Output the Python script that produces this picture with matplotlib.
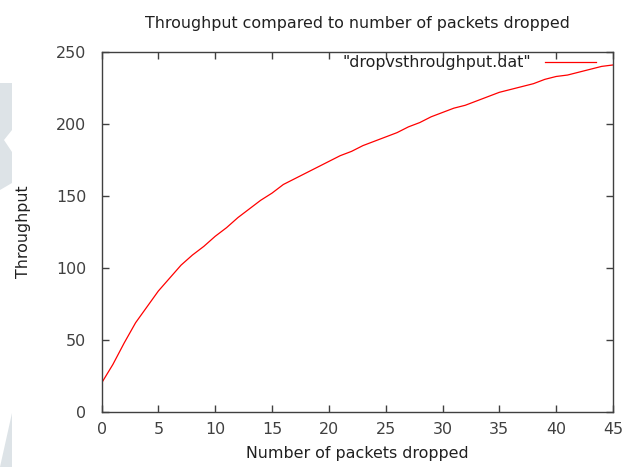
import matplotlib
matplotlib.use("Agg")
import matplotlib.pyplot as plt
from matplotlib.patches import Polygon

# packets dropped vs throughput
dropped = list(range(0, 46))
throughput = [20, 33, 48, 62, 73, 84, 93, 102, 109, 115,
              122, 128, 135, 141, 147, 152, 158, 162, 166, 170,
              174, 178, 181, 185, 188, 191, 194, 198, 201, 205,
              208, 211, 213, 216, 219, 222, 224, 226, 228, 231,
              233, 234, 236, 238, 240, 241]

xticks = [0, 5, 10, 15, 20, 25, 30, 35, 40, 45]
yticks = [0, 50, 100, 150, 200, 250]

plt.rcParams['font.family'] = 'DejaVu Sans'
fs = 11.4

fig = plt.figure(figsize=(6.22, 4.67), dpi=100)
W, H = 622, 467

# faint watermark shapes at the left edge
wm = '#dde3e7'
top_shape = [(0, 83), (12, 83), (12, 130), (4, 140), (12, 152), (12, 183), (0, 190)]
bot_shape = [(12, 413), (12, 467), (0, 467)]
for pts in (top_shape, bot_shape):
    fig.patches.append(Polygon([(x / W, 1 - y / H) for x, y in pts], closed=True,
                               transform=fig.transFigure, facecolor=wm,
                               edgecolor='none', zorder=0))

ax = fig.add_axes([101.5 / W, 1 - 412 / H, (613 - 101.5) / W, (412 - 52) / H])
ax.patch.set_alpha(0)

ax.plot(dropped, throughput, color='#ff0000', lw=0.9, label='"dropvsthroughput.dat"')

ax.set_xlim(0, 45)
ax.set_ylim(0, 250)
ax.set_xticks(xticks)
ax.set_yticks(yticks)

grey = '#404040'
ax.tick_params(direction='in', length=5, width=1, colors=grey, labelsize=fs,
               top=True, right=True, pad=7)
ax.tick_params(axis='y', pad=11)
for s in ax.spines.values():
    s.set_color(grey)
    s.set_linewidth(1)

ax.set_xlabel('Number of packets dropped', fontsize=fs, color='#202020', labelpad=7)
ax.set_ylabel('Throughput', fontsize=fs, color='#202020', labelpad=18)
ax.set_title('Throughput compared to number of packets dropped', fontsize=fs,
             color='#202020', pad=17)

leg = ax.legend(loc='center right', bbox_to_anchor=(596 / W, 1 - 63 / H),
                bbox_transform=fig.transFigure, frameon=False, markerfirst=False,
                fontsize=fs, handlelength=3.2, borderaxespad=0, borderpad=0,
                handletextpad=0.9)
for t in leg.get_texts():
    t.set_color('#202020')

fig.savefig('out.png', dpi=100)
